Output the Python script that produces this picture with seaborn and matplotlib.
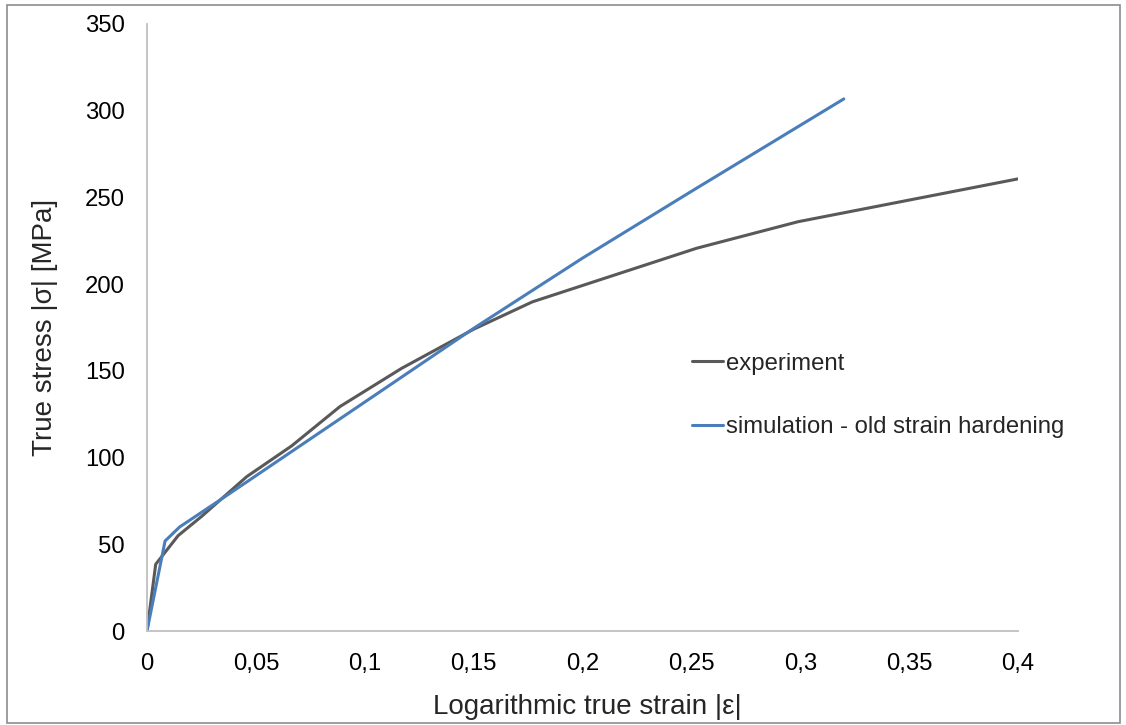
import pandas as pd
import numpy as np
import seaborn as sns
import matplotlib.pyplot as plt
import matplotlib.ticker as ticker
from matplotlib.patches import Rectangle

# experiment curve
exp_strain = [0, 0.004, 0.0143, 0.025, 0.0458, 0.0664, 0.0886, 0.117, 0.15, 0.177, 0.2524, 0.299, 0.4]
exp_stress = [0, 38.5, 55, 66, 89, 106.7, 129.4, 151.5, 174, 189.8, 220.7, 236, 260.7]

# simulation - old strain hardening
sim_strain = [0, 0.0083, 0.015, 0.0335, 0.1, 0.15, 0.2, 0.25, 0.32]
sim_stress = [0, 51.9, 60, 75.5, 132, 174.5, 215, 253.5, 306.8]

x_ticks = [0, 0.05, 0.1, 0.15, 0.2, 0.25, 0.3, 0.35, 0.4]
y_ticks = [0, 50, 100, 150, 200, 250, 300, 350]

sns.set_style("white")
plt.rcParams['font.family'] = ['Liberation Sans', 'DejaVu Sans']

fig = plt.figure(figsize=(11.26, 7.25), dpi=100)
ax = fig.add_axes([147/1126, 1-631/725, (1018-147)/1126, (631-24)/725])

sns.lineplot(x=exp_strain, y=exp_stress, ax=ax, color='#595959', lw=2.2,
             sort=False, label='experiment')
sns.lineplot(x=sim_strain, y=sim_stress, ax=ax, color='#4a7ebb', lw=2.2,
             sort=False, label='simulation - old strain hardening')

ax.set_xlim(0, 0.4)
ax.set_ylim(0, 350)
ax.set_xticks(x_ticks)
ax.set_yticks(y_ticks)
ax.xaxis.set_major_formatter(ticker.FuncFormatter(
    lambda v, p: ('%g' % v).replace('.', ',')))
ax.tick_params(axis='both', length=0, labelsize=17.2, colors='black')
ax.tick_params(axis='x', pad=16)
ax.tick_params(axis='y', pad=16)

for s in ['top', 'right']:
    ax.spines[s].set_visible(False)
for s in ['left', 'bottom']:
    ax.spines[s].set_color('#bfbfbf')
    ax.spines[s].set_linewidth(1.3)

ax.set_xlabel("")
ax.set_ylabel("")
fig.text(587/1126, 1-707/725, "Logarithmic true strain |ε|",
         fontsize=20, ha='center', va='center')
fig.text(45/1126, 1-327/725, "True stress |σ| [MPa]", fontsize=20,
         ha='center', va='center', rotation=90)

leg = ax.legend(loc='upper left', bbox_to_anchor=((682-147)/871, (631-343)/607),
                frameon=False, fontsize=17.2, handlelength=1.3,
                handletextpad=0.15, labelspacing=1.75, borderaxespad=0)

fig.patches.append(Rectangle((7/1126, 1-723/725), (1120-7)/1126, (723-5)/725,
                             transform=fig.transFigure, fill=False,
                             edgecolor='#8c8c8c', lw=1.2))

fig.savefig('out.png', dpi=100)
